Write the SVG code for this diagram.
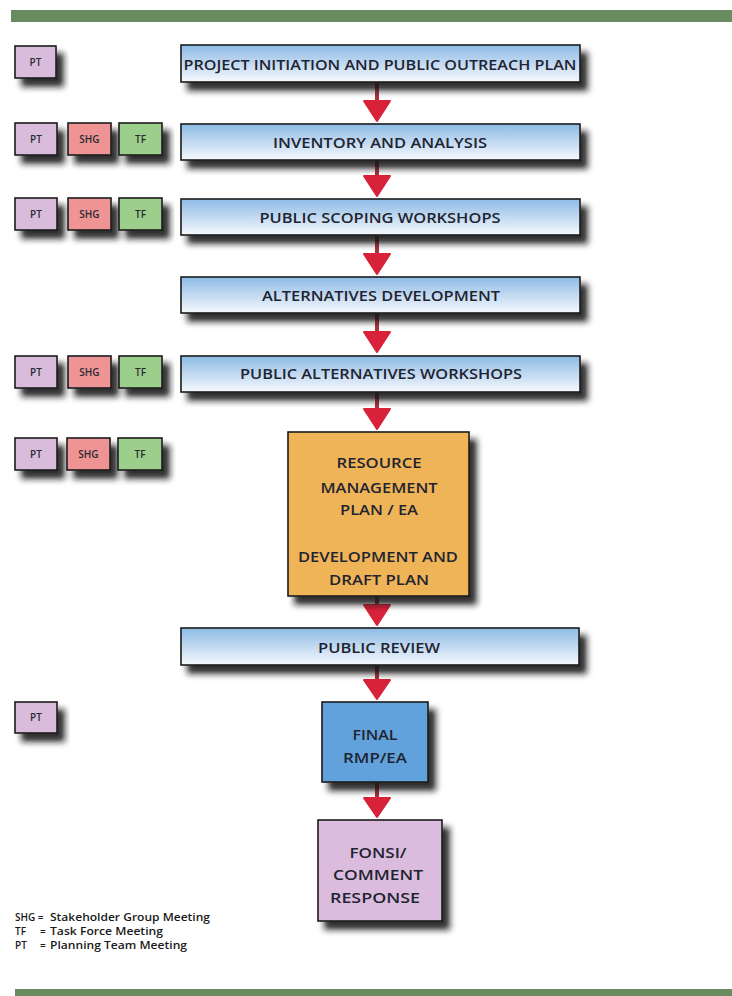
<svg xmlns="http://www.w3.org/2000/svg" width="732" height="996" viewBox="0 0 732 996">
<style>
.t{font-family:"Open Sans","Liberation Sans",sans-serif;font-weight:600;fill:#1e2430;text-anchor:middle}
.s{font-family:"Open Sans","Liberation Sans",sans-serif;font-weight:600;fill:#2a2a30;text-anchor:middle;font-size:10px}
.lg{font-family:"Open Sans","Liberation Sans",sans-serif;font-weight:600;fill:#1a1a1a;font-size:10px}
.bx{stroke:#1c1c1c;stroke-width:1.6;filter:url(#sh)}
.pt{fill:#d9bcdc}.shg{fill:#ee9494}.tf{fill:#9ccf8c}
.ar{fill:#d8223a;stroke:#d8223a;stroke-width:2;stroke-linejoin:round}
.st{fill:#a8343c}
</style>
<defs>
<linearGradient id="blue" x1="0" y1="0" x2="0" y2="1">
<stop offset="0" stop-color="#8dbbe6"/>
<stop offset="0.55" stop-color="#c7dcf2"/>
<stop offset="1" stop-color="#f6f9fd"/>
</linearGradient>
<filter id="sh" x="-20%" y="-30%" width="150%" height="180%">
<feGaussianBlur in="SourceAlpha" stdDeviation="3"/>
<feOffset dx="7" dy="8" result="o"/>
<feFlood flood-color="#151515" flood-opacity="0.9"/>
<feComposite in2="o" operator="in"/>
<feMerge><feMergeNode/><feMergeNode in="SourceGraphic"/></feMerge>
</filter>
</defs>
<rect x="0" y="0" width="732" height="996" fill="#ffffff"/>
<rect x="11" y="10" width="721" height="12" fill="#6a8a60"/>
<rect x="15" y="989" width="717" height="7" fill="#6a8a60"/>

<g id="connectors">
<g><rect class="st" x="375" y="82" width="4" height="20"/><path class="ar" d="M364 101 L390 101 L377 121 Z"/></g>
<g><rect class="st" x="375" y="160" width="4" height="17"/><path class="ar" d="M364 176 L390 176 L377 196 Z"/></g>
<g><rect class="st" x="375" y="235" width="4" height="20"/><path class="ar" d="M364 254 L390 254 L377 274 Z"/></g>
<g><rect class="st" x="375" y="313" width="4" height="20"/><path class="ar" d="M364 332 L390 332 L377 352 Z"/></g>
<g><rect class="st" x="375" y="392" width="4" height="18"/><path class="ar" d="M364 409 L390 409 L377 429 Z"/></g>
<g><rect class="st" x="375" y="596" width="4" height="10"/><path class="ar" d="M364 605 L390 605 L377 625 Z"/></g>
<g><rect class="st" x="375" y="665" width="4" height="16"/><path class="ar" d="M364 680 L390 680 L377 699 Z"/></g>
<g><rect class="st" x="375" y="782" width="4" height="16"/><path class="ar" d="M364 798 L390 798 L377 817 Z"/></g>
</g>

<g id="step1"><rect class="bx" x="181" y="45" width="399" height="37" fill="url(#blue)"/><text class="t" x="380" y="69.5" font-size="15" textLength="393" lengthAdjust="spacingAndGlyphs">PROJECT INITIATION AND PUBLIC OUTREACH PLAN</text></g>
<g id="step2"><rect class="bx" x="181" y="124" width="399" height="36" fill="url(#blue)"/><text class="t" x="380" y="148" font-size="15" textLength="214" lengthAdjust="spacingAndGlyphs">INVENTORY AND ANALYSIS</text></g>
<g id="step3"><rect class="bx" x="181" y="199" width="399" height="36" fill="url(#blue)"/><text class="t" x="380" y="222.5" font-size="15" textLength="241" lengthAdjust="spacingAndGlyphs">PUBLIC SCOPING WORKSHOPS</text></g>
<g id="step4"><rect class="bx" x="181" y="277" width="399" height="36" fill="url(#blue)"/><text class="t" x="381" y="300.5" font-size="15" textLength="238" lengthAdjust="spacingAndGlyphs">ALTERNATIVES DEVELOPMENT</text></g>
<g id="step5"><rect class="bx" x="181" y="356" width="399" height="36" fill="url(#blue)"/><text class="t" x="381" y="379" font-size="15" textLength="282" lengthAdjust="spacingAndGlyphs">PUBLIC ALTERNATIVES WORKSHOPS</text></g>
<g id="step6"><rect class="bx" x="288" y="432" width="181" height="164" fill="#f0b458"/>
<text class="t" font-size="14"><tspan x="379" y="468" textLength="85" lengthAdjust="spacingAndGlyphs">RESOURCE</tspan><tspan x="379" y="493" textLength="117" lengthAdjust="spacingAndGlyphs">MANAGEMENT</tspan><tspan x="379" y="515" textLength="78" lengthAdjust="spacingAndGlyphs">PLAN / EA</tspan><tspan x="378" y="562" textLength="160" lengthAdjust="spacingAndGlyphs">DEVELOPMENT AND</tspan><tspan x="379" y="585" textLength="100" lengthAdjust="spacingAndGlyphs">DRAFT PLAN</tspan></text></g>
<g id="step7"><rect class="bx" x="181" y="628" width="398" height="37" fill="url(#blue)"/><text class="t" x="379" y="652.5" font-size="15" textLength="122" lengthAdjust="spacingAndGlyphs">PUBLIC REVIEW</text></g>
<g id="step8"><rect class="bx" x="322" y="702" width="106" height="80" fill="#62a2dc"/>
<text class="t" font-size="14"><tspan x="375" y="740" textLength="45" lengthAdjust="spacingAndGlyphs">FINAL</tspan><tspan x="375" y="763" textLength="64" lengthAdjust="spacingAndGlyphs">RMP/EA</tspan></text></g>
<g id="step9"><rect class="bx" x="318" y="820" width="124" height="101" fill="#dcbcde"/>
<text class="t" font-size="14"><tspan x="378" y="858" textLength="57" lengthAdjust="spacingAndGlyphs">FONSI/</tspan><tspan x="378" y="880" textLength="90" lengthAdjust="spacingAndGlyphs">COMMENT</tspan><tspan x="375" y="903" textLength="90" lengthAdjust="spacingAndGlyphs">RESPONSE</tspan></text></g>

<g id="row1-pt"><rect class="bx pt" x="15" y="46" width="41" height="32"/><text class="s" x="35.5" y="65.5">PT</text></g>

<g id="row2-pt"><rect class="bx pt" x="15" y="123" width="42" height="32"/><text class="s" x="36" y="142.5">PT</text></g>
<g id="row2-shg"><rect class="bx shg" x="68" y="123" width="43" height="32"/><text class="s" x="89.5" y="142.5">SHG</text></g>
<g id="row2-tf"><rect class="bx tf" x="119" y="123" width="43" height="32"/><text class="s" x="140.5" y="142.5">TF</text></g>

<g id="row3-pt"><rect class="bx pt" x="15" y="198" width="42" height="32"/><text class="s" x="36" y="217.5">PT</text></g>
<g id="row3-shg"><rect class="bx shg" x="68" y="198" width="43" height="32"/><text class="s" x="89.5" y="217.5">SHG</text></g>
<g id="row3-tf"><rect class="bx tf" x="119" y="198" width="43" height="32"/><text class="s" x="140.5" y="217.5">TF</text></g>

<g id="row5-pt"><rect class="bx pt" x="15" y="356" width="42" height="32"/><text class="s" x="36" y="375.5">PT</text></g>
<g id="row5-shg"><rect class="bx shg" x="68" y="356" width="43" height="32"/><text class="s" x="89.5" y="375.5">SHG</text></g>
<g id="row5-tf"><rect class="bx tf" x="119" y="356" width="43" height="32"/><text class="s" x="140.5" y="375.5">TF</text></g>

<g id="row6-pt"><rect class="bx pt" x="15" y="438" width="42" height="32"/><text class="s" x="36" y="457.5">PT</text></g>
<g id="row6-shg"><rect class="bx shg" x="67" y="438" width="43" height="32"/><text class="s" x="88.5" y="457.5">SHG</text></g>
<g id="row6-tf"><rect class="bx tf" x="118" y="438" width="44" height="32"/><text class="s" x="140" y="457.5">TF</text></g>

<g id="row9-pt"><rect class="bx pt" x="15" y="702" width="42" height="31"/><text class="s" x="36" y="721">PT</text></g>

<g id="legend">
<text class="lg" x="15" y="921">SHG =</text><text class="lg" x="50" y="921" textLength="160" lengthAdjust="spacingAndGlyphs">Stakeholder Group Meeting</text>
<text class="lg" x="15" y="935">TF</text><text class="lg" x="40" y="935">=</text><text class="lg" x="50" y="935" textLength="113" lengthAdjust="spacingAndGlyphs">Task Force Meeting</text>
<text class="lg" x="15" y="949">PT</text><text class="lg" x="40" y="949">=</text><text class="lg" x="50" y="949" textLength="137" lengthAdjust="spacingAndGlyphs">Planning Team Meeting</text>
</g>
</svg>
